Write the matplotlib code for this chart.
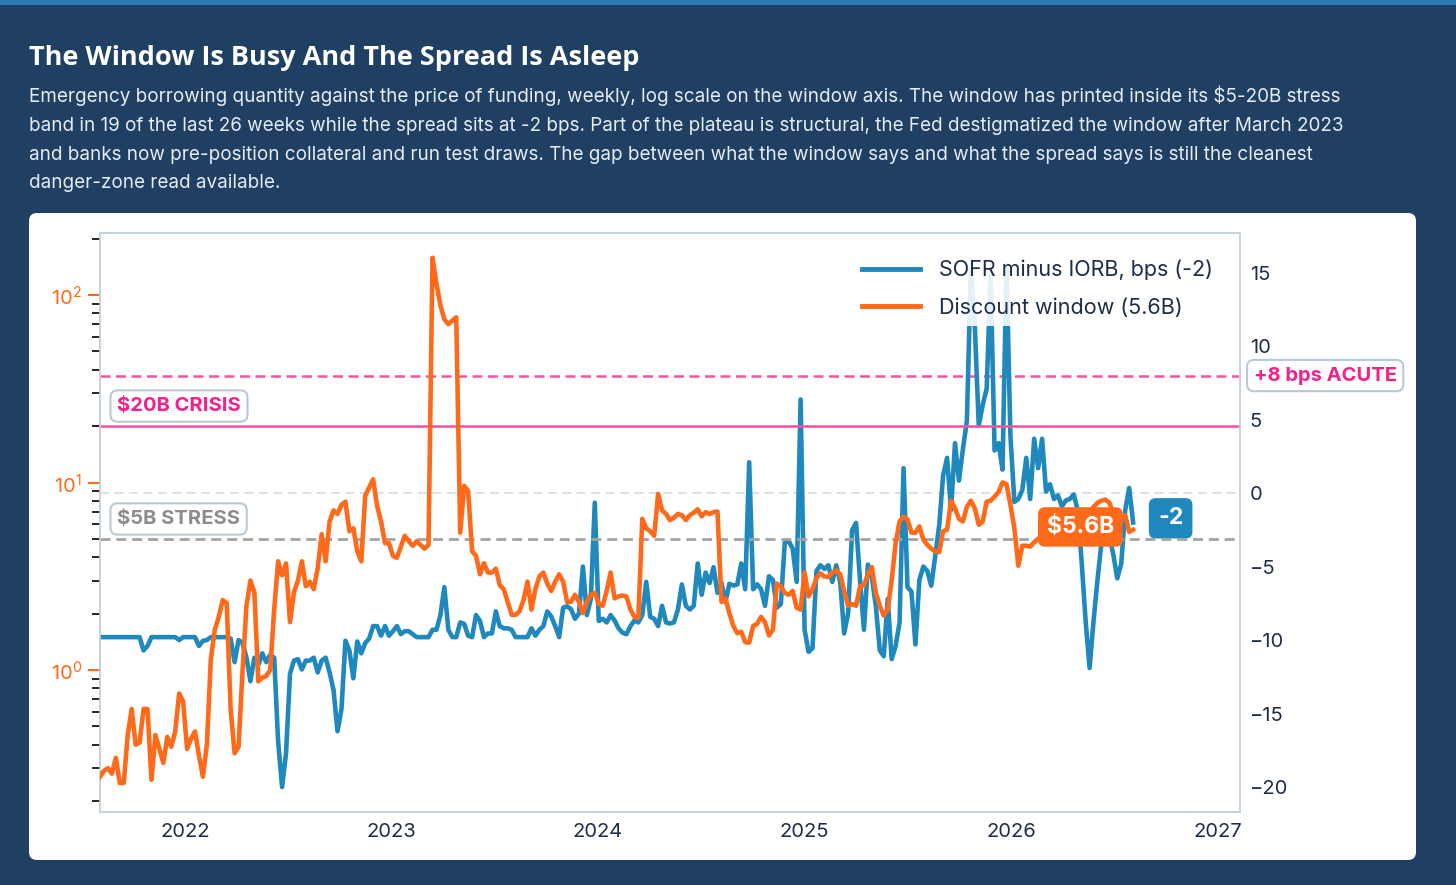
import matplotlib
matplotlib.use("Agg")
import matplotlib.pyplot as plt
import matplotlib.patches as mpatches
import matplotlib.dates as mdates
import pandas as pd

plt.rcParams['font.family'] = ['Inter', 'DejaVu Sans']
plt.rcParams['mathtext.fontset'] = 'custom'
plt.rcParams['mathtext.rm'] = 'Inter'

NAVY = '#1f3f63'
BLUE = '#1f88bd'
ORANGE = '#ff6a1a'
PINK = '#ff4fa3'
PINK_TXT = '#f5208a'
INK = '#1e2d4a'
SPINE = '#c5d3e0'

# weekly observations, Aug 2021 -> Aug 2026
dates = pd.date_range('2021-08-04', periods=262, freq='7D')

# discount window borrowing, $B
window = [
    0.27, 0.29, 0.30, 0.28, 0.34, 0.25, 0.25, 0.45, 0.62, 0.40,
    0.41, 0.62, 0.62, 0.26, 0.45, 0.38, 0.32, 0.44, 0.39, 0.47,
    0.75, 0.68, 0.38, 0.43, 0.47, 0.35, 0.27, 0.40, 1.14, 1.64,
    1.92, 2.36, 2.28, 0.62, 0.36, 0.39, 0.98, 2.2, 3.0, 2.6,
    0.87, 0.91, 0.93, 1.0, 2.1, 3.8, 3.2, 3.7, 1.8, 2.6,
    3.0, 3.8, 2.8, 2.96, 2.7, 3.5, 5.3, 3.8, 6.2, 7.1,
    6.8, 7.6, 7.9, 5.5, 5.7, 4.3, 3.8, 8.5, 9.4, 10.4,
    7.5, 6.2, 4.75, 4.75, 4.06, 3.97, 4.55, 5.2, 4.86, 4.6,
    4.86, 4.65, 4.44, 4.65, 158, 115, 88, 74, 70, 73,
    76, 5.4, 9.6, 9.0, 4.3, 4.06, 3.24, 3.71, 3.31, 3.31,
    3.47, 2.83, 2.70, 2.31, 1.97, 1.97, 2.06, 2.36, 2.96, 2.1,
    2.7, 3.16, 3.31, 2.89, 2.64, 2.96, 3.24, 2.96, 2.31, 2.31,
    2.52, 2.31, 2.01, 2.31, 2.52, 2.58, 2.25, 2.20, 2.64, 3.31,
    2.41, 2.47, 2.5, 2.47, 2.1, 1.92, 1.9, 6.4, 5.7, 5.5,
    5.2, 8.7, 7.1, 6.8, 6.3, 6.5, 6.8, 6.7, 6.3, 6.7,
    6.9, 7.2, 6.6, 6.95, 6.8, 6.95, 7.0, 2.31, 2.41, 2.01,
    1.72, 1.57, 1.60, 1.41, 1.40, 1.72, 1.76, 1.92, 1.80, 1.53,
    1.64, 2.89, 2.79, 2.58, 2.52, 2.64, 2.15, 2.1, 3.31, 2.47,
    2.7, 3.09, 3.28, 3.16, 3.13, 3.31, 3.39, 3.24, 2.64, 2.2,
    2.25, 2.2, 2.79, 2.83, 3.24, 3.54, 2.58, 2.2, 1.95, 2.1,
    3.0, 4.75, 6.2, 6.57, 6.37, 5.4, 5.4, 5.83, 4.97, 4.65,
    4.44, 4.3, 4.25, 5.5, 5.6, 8.0, 7.3, 6.4, 6.2, 7.4,
    8.0, 7.3, 5.96, 6.2, 7.9, 8.0, 8.4, 8.9, 10.0, 9.8,
    7.6, 5.7, 3.6, 4.6, 4.6, 4.55, 4.8, 5.0, 5.3, 5.6,
    5.2, 5.8, 6.2, 5.9, 6.3, 6.6, 6.0, 6.4, 6.9, 6.5,
    7.0, 7.4, 7.8, 8.0, 8.1, 7.8, 6.8, 6.0, 6.3, 6.7,
    5.45, 5.6,
]

# SOFR minus IORB, bps
spread = [
    -9.8, -9.8, -9.8, -9.8, -9.8, -9.8, -9.8, -9.8, -9.8, -9.8,
    -9.8, -10.7, -10.4, -9.8, -9.8, -9.8, -9.8, -9.8, -9.8, -9.8,
    -10.0, -9.8, -9.8, -9.8, -9.8, -10.4, -10.05, -10.0, -9.8, -9.8,
    -9.8, -9.8, -9.8, -9.9, -11.5, -10.0, -10.2, -11.2, -12.8, -11.2,
    -11.7, -10.9, -11.5, -11.0, -11.2, -16.9, -20.0, -17.7, -12.3, -11.4,
    -11.3, -12.0, -11.4, -11.4, -11.2, -12.2, -11.4, -11.2, -12.2, -13.4,
    -16.2, -14.7, -10.05, -10.7, -12.6, -10.1, -10.9, -10.2, -9.9, -9.05,
    -9.05, -9.7, -9.05, -9.7, -9.4, -9.05, -9.6, -9.4, -9.4, -9.6,
    -9.8, -9.8, -9.8, -9.8, -9.3, -9.3, -8.3, -6.4, -9.3, -9.8,
    -9.8, -8.8, -8.9, -9.7, -9.8, -8.3, -8.7, -9.8, -9.55, -9.55,
    -8.05, -9.05, -9.2, -9.2, -9.3, -9.8, -9.8, -9.8, -9.8, -9.2,
    -9.7, -9.3, -9.05, -8.05, -8.4, -9.05, -9.8, -7.8, -7.7, -7.9,
    -8.55, -8.2, -5.0, -8.3, -7.2, -0.65, -8.7, -8.55, -8.8, -8.3,
    -8.67, -9.2, -9.5, -9.6, -9.05, -8.67, -8.8, -8.3, -6.04, -8.42,
    -8.55, -9.05, -7.67, -8.8, -8.87, -8.8, -7.92, -6.22, -7.67, -7.92,
    -7.67, -4.79, -6.92, -5.41, -6.12, -5.04, -6.79, -6.12, -7.42, -6.17,
    -6.29, -6.22, -4.79, -6.54, 2.1, -6.54, -6.2, -6.54, -7.67, -5.66,
    -5.91, -7.79, -7.54, -3.36, -3.28, -3.78, -6.04, 6.37, -9.3, -10.8,
    -10.55, -5.29, -4.91, -5.16, -4.91, -6.04, -4.91, -6.04, -9.55, -8.17,
    -2.53, -2.03, -5.91, -9.3, -4.86, -5.7, -7.7, -10.7, -11.1, -7.2,
    -11.3, -10.4, -8.8, 1.7, -6.4, -6.7, -10.3, -5.9, -5.0, -5.3,
    -6.3, -4.3, -2.2, 1.2, 2.4, -1.15, 3.4, 0.85, 3.0, 4.9,
    15.2, 11.4, 4.6, 6.0, 7.1, 14.8, 2.9, 3.4, 1.6, 15.5,
    3.9, -0.6, -0.4, 0.2, 2.4, -0.4, 3.7, 1.7, 3.7, 0.1,
    0.6, -0.4, -0.15, -0.9, -0.5, -0.4, -0.1, -1.15, -4.7, -8.7,
    -11.9, -8.7, -5.9, -3.4, -3.4, -2.9, -4.2, -5.8, -4.8, -1.15,
    0.35, -2.0,
]

title = "The Window Is Busy And The Spread Is Asleep"
subtitle = ("Emergency borrowing quantity against the price of funding, weekly, log scale on the window axis. "
            "The window has printed inside its $5-20B stress\n"
            "band in 19 of the last 26 weeks while the spread sits at -2 bps. Part of the plateau is structural, "
            "the Fed destigmatized the window after March 2023\n"
            "and banks now pre-position collateral and run test draws. The gap between what the window says "
            "and what the spread says is still the cleanest\n"
            "danger-zone read available.")

fig = plt.figure(figsize=(14.56, 8.85), dpi=100)
fig.patch.set_facecolor(NAVY)

# top accent strip and white card
fig.add_artist(mpatches.Rectangle((0, 1 - 5 / 885), 1, 5 / 885, transform=fig.transFigure,
                                  facecolor='#2d7ab5', edgecolor='none', zorder=-2))
card = mpatches.FancyBboxPatch((0.29, 0.25), 13.87, 6.47,
                               boxstyle='round,pad=0,rounding_size=0.08',
                               transform=fig.dpi_scale_trans,
                               facecolor='white', edgecolor='none', zorder=-1)
fig.add_artist(card)

fig.text(29 / 1456, 1 - 45 / 885, title, fontsize=19.5, fontweight='bold', color='white',
         family=['Open Sans', 'DejaVu Sans'], va='top', ha='left')
fig.text(29 / 1456, 1 - 86 / 885, subtitle, fontsize=13.6, color='#e6ecf3',
         va='top', ha='left', linespacing=1.75)

ax = fig.add_axes([100 / 1456, 1 - 812 / 885, 1140 / 1456, 579 / 885])
ax2 = ax.twinx()
ax.set_zorder(ax2.get_zorder() + 1)
ax.patch.set_visible(False)

# reference levels
ax2.axhline(0, color='#dddddd', lw=1.3, dashes=(5, 3), zorder=1)
ax2.axhline(8, color=PINK, lw=1.8, dashes=(4, 2.2), zorder=1)
ax.axhline(20, color=PINK, lw=1.8, zorder=1)
ax.axhline(5, color='#a3a3a3', lw=2, dashes=(3.6, 2.1), zorder=1)

l_spread, = ax2.plot(dates, spread, color=BLUE, lw=3.3, solid_joinstyle='round', zorder=3)
l_window, = ax.plot(dates, window, color=ORANGE, lw=3.3, solid_joinstyle='round', zorder=3)

ax.set_yscale('log')
ax.set_ylim(0.175, 214)
ax2.set_ylim(-21.7, 17.7)
ax2.set_yticks([-20, -15, -10, -5, 0, 5, 10, 15])
ax.set_xlim(pd.Timestamp('2021-08-04'), pd.Timestamp('2027-02-10'))
ax.xaxis.set_major_locator(mdates.YearLocator())
ax.xaxis.set_major_formatter(mdates.DateFormatter('%Y'))

ax.tick_params(axis='y', which='major', colors=ORANGE, length=9, width=1.5, labelsize=14.5, pad=4)
ax.tick_params(axis='y', which='minor', color='black', length=6, width=1.2)
ax.tick_params(axis='x', length=0, labelsize=14.5, labelcolor=INK, pad=8)
ax2.tick_params(axis='y', length=0, labelsize=14.5, labelcolor=INK, pad=7)
for a in (ax, ax2):
    for s in a.spines.values():
        s.set_color(SPINE)
        s.set_linewidth(1.2)

box = dict(boxstyle='round,pad=0.33,rounding_size=0.35', fc='white', ec='#b9c8d8', lw=1.5)
ax.annotate('$20B CRISIS', xy=(0.015, 20), xycoords=ax.get_yaxis_transform(),
            xytext=(0, 14.4), textcoords='offset points', ha='left', va='center',
            fontsize=14.5, fontweight='bold', color=PINK_TXT, bbox=box, zorder=5)
ax.annotate('$5B STRESS', xy=(0.015, 5), xycoords=ax.get_yaxis_transform(),
            xytext=(0, 14.4), textcoords='offset points', ha='left', va='center',
            fontsize=14.5, fontweight='bold', color='#8c8c8c', bbox=box, zorder=5)
ax2.text(1.012, 8, '+8 bps ACUTE', transform=ax2.get_yaxis_transform(), ha='left', va='center',
         fontsize=14.5, fontweight='bold', color=PINK_TXT, bbox=box, clip_on=False)

# end-of-series value tags
ax.annotate(f'${window[-1]:.1f}B', xy=(dates[-1], window[-1]), xytext=(-38, 2),
            textcoords='offset points', ha='center', va='center', fontsize=16.5,
            fontweight='bold', color='white', zorder=6,
            bbox=dict(boxstyle='round,pad=0.38,rounding_size=0.3', fc=ORANGE, ec='none'))
ax2.annotate(f'{spread[-1]:.0f}', xy=(dates[-1], spread[-1]), xytext=(27, 3),
             textcoords='offset points', ha='center', va='center', fontsize=16.5,
             fontweight='bold', color='white', zorder=6,
             bbox=dict(boxstyle='round,pad=0.4,rounding_size=0.3', fc=BLUE, ec='none'))

leg = ax.legend([l_spread, l_window],
                [f'SOFR minus IORB, bps ({spread[-1]:.0f})', f'Discount window ({window[-1]:.1f}B)'],
                loc='upper right', fontsize=15.5, frameon=True, framealpha=0.88,
                facecolor='white', edgecolor='none', handlelength=2.7, handletextpad=0.9,
                labelspacing=0.8, borderaxespad=0.85)
for t in leg.get_texts():
    t.set_color(INK)
for h in leg.get_lines():
    h.set_linewidth(3.5)

fig.savefig('out.png', dpi=100, facecolor=fig.get_facecolor())
